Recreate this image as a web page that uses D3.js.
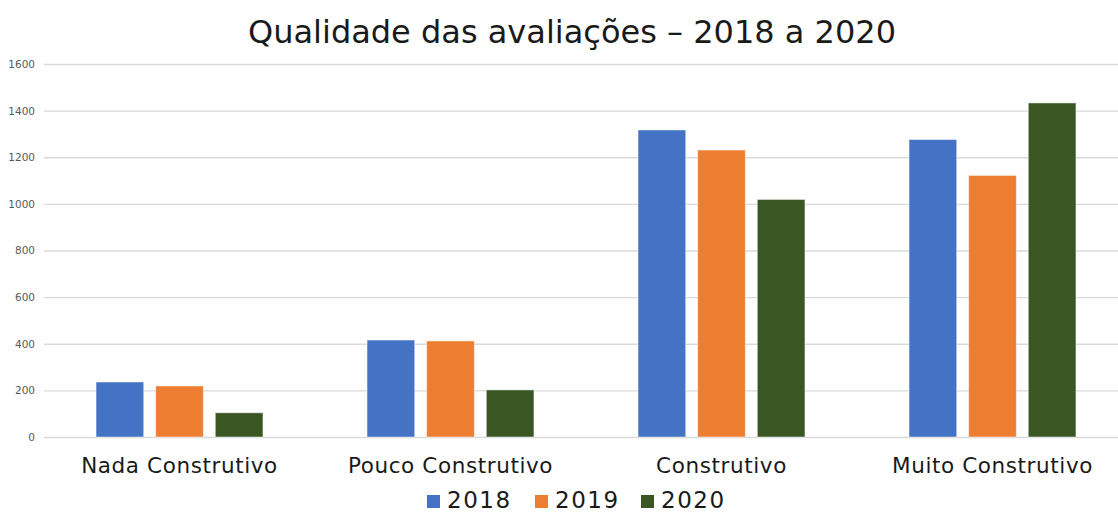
<!DOCTYPE html>
<html><head><meta charset="utf-8">
<script src="https://cdn.jsdelivr.net/npm/d3@7"></script>
<style>html,body{margin:0;padding:0;background:#fff;}svg{display:block;}</style>
</head><body>
<svg id="chart" width="1118" height="515"></svg>
<script>
const categories = ["Nada Construtivo", "Pouco Construtivo", "Construtivo", "Muito Construtivo"];
const years = ["2018", "2019", "2020"];
const values2018 = [236, 416, 1317, 1276];
const values2019 = [219, 412, 1231, 1122];
const values2020 = [104, 202, 1019, 1433];
const yTicks = [0, 200, 400, 600, 800, 1000, 1200, 1400, 1600];
const colors = ["#4472C4", "#ED7D31", "#3A5623"];
const title = "Qualidade das avaliações – 2018 a 2020";

const seriesValues = [values2018, values2019, values2020];
const svg = d3.select("#chart");
const font = "DejaVu Sans, Verdana, sans-serif";

const x0 = d3.scaleBand().domain(categories).range([44, 1128]).paddingInner(0.384).paddingOuter(0.192);
const x1 = d3.scaleBand().domain(years).range([0, x0.bandwidth()]).paddingInner(0.2);
const y = d3.scaleLinear().domain([0, 1600]).range([437, 64]);

// gridlines
const yAxis = d3.axisLeft(y).tickValues(yTicks).tickFormat(d3.format("d")).tickSize(-(1118 - 44)).tickPadding(9);
const gy = svg.append("g").attr("transform", "translate(44,0)").call(yAxis);
gy.select(".domain").remove();
gy.selectAll(".tick line").attr("stroke", "#d9d9d9").attr("stroke-width", 1.3);
gy.selectAll(".tick text").attr("fill", "#595959").attr("font-family", font).attr("font-size", 10.5);

// bars
const groups = svg.append("g").selectAll("g").data(categories).join("g")
  .attr("transform", d => `translate(${x0(d)},0)`);
groups.selectAll("rect").data((d, i) => years.map((yr, j) => ({yr, v: seriesValues[j][i], c: colors[j]})))
  .join("rect")
  .attr("x", d => x1(d.yr))
  .attr("width", x1.bandwidth())
  .attr("y", d => y(d.v))
  .attr("height", d => y(0) - y(d.v))
  .attr("fill", d => d.c)
  .attr("stroke", "#ffffff").attr("stroke-opacity", 0.5).attr("stroke-width", 1);

// category axis labels
const xAxis = d3.axisBottom(x0).tickSize(0).tickPadding(21);
const gx = svg.append("g").attr("transform", "translate(0,437)").call(xAxis);
gx.select(".domain").remove();
gx.selectAll(".tick text").attr("fill", "#1a1a1a").attr("font-family", font).attr("font-size", 21.5)
  .attr("letter-spacing", 0.6);

// title
svg.append("text").attr("x", 572).attr("y", 43).attr("text-anchor", "middle")
  .attr("font-family", font).attr("font-size", 32).attr("fill", "#1a1a1a").text(title);

// legend
const legendX = d3.scaleOrdinal().domain(years).range([427, 535, 641]);
const lg = svg.append("g").selectAll("g").data(years).join("g")
  .attr("transform", d => `translate(${legendX(d)},0)`);
lg.append("rect").attr("x", 0).attr("y", 495).attr("width", 13).attr("height", 13)
  .attr("fill", (d, i) => colors[i]);
lg.append("text").attr("x", 20).attr("y", 508).attr("font-family", font).attr("font-size", 23)
  .attr("letter-spacing", 1.5).attr("fill", "#1a1a1a").text(d => d);
</script>
</body></html>
